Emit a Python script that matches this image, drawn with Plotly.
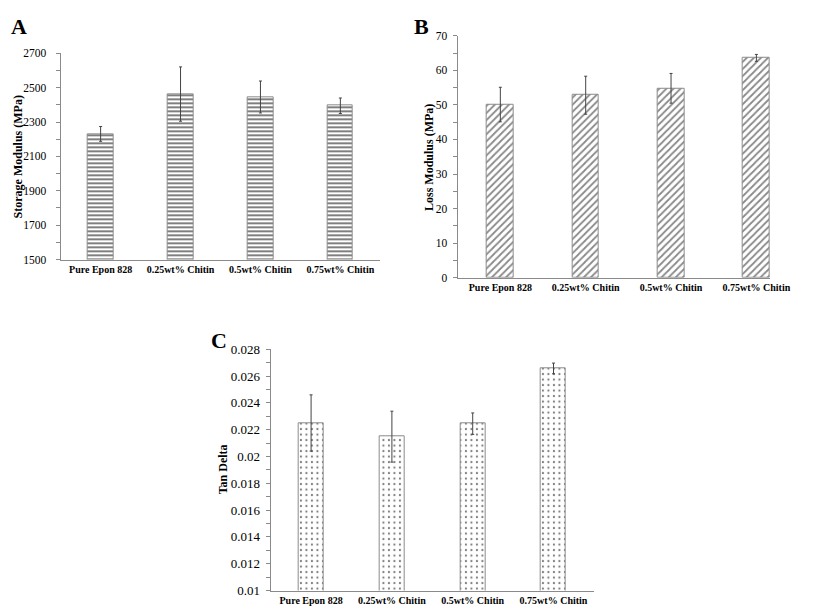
import plotly.graph_objects as go

categories = ["Pure Epon 828", "0.25wt% Chitin", "0.5wt% Chitin", "0.75wt% Chitin"]

storage_modulus = [2231, 2463, 2446, 2395]
storage_err = [43, 158, 93, 45]

loss_modulus = [50.1, 52.8, 54.8, 63.6]
loss_err = [5.0, 5.5, 4.3, 1.0]

tan_delta = [0.0225, 0.02148, 0.02245, 0.02657]
tan_err = [0.0021, 0.0019, 0.0008, 0.0004]

panel_letters = ["A", "B", "C"]
y_titles = ["Storage Modulus (MPa)", "Loss Modulus (MPa)", "Tan Delta"]

SERIF = "Liberation Serif"
W, H = 813, 611
AXIS_GRAY = "#8a8a8a"

def fx(px):
    return px / W

def fy(py):
    return (H - py) / H

fig = go.Figure()

def add_bar(xaxis, yaxis, vals, errs, shape, size, solidity, width, fg):
    fig.add_trace(go.Bar(
        x=categories, y=vals, xaxis=xaxis, yaxis=yaxis, width=width,
        marker=dict(color="white",
                    line=dict(color="#8c8c8c", width=1),
                    pattern=dict(shape=shape, fgcolor=fg, bgcolor="white",
                                 size=size, solidity=solidity, fillmode="overlay")),
        error_y=dict(type="data", array=errs, visible=True, color="#444444",
                     thickness=1, width=1.5),
        showlegend=False, hoverinfo="skip",
    ))

add_bar("x", "y", storage_modulus, storage_err, "-", 4, 0.5, 0.32, "black")
add_bar("x2", "y2", loss_modulus, loss_err, "/", 5, 0.35, 0.315, "#111111")
add_bar("x3", "y3", tan_delta, tan_err, ".", 5.5, 0.12, 0.31, "black")

xcommon = dict(type="category", showline=True, linecolor=AXIS_GRAY, linewidth=1,
               ticks="", showgrid=False, zeroline=False, tickangle=0,
               tickfont=dict(family=SERIF, size=10, color="black", weight="bold"))
ycommon = dict(showline=True, linecolor=AXIS_GRAY, linewidth=1, ticks="outside",
               ticklen=4, tickcolor=AXIS_GRAY, showgrid=False, zeroline=False)

fig.update_layout(
    width=W, height=H, margin=dict(l=0, r=0, t=0, b=0),
    paper_bgcolor="white", plot_bgcolor="white", bargap=0,
    xaxis=dict(**xcommon, domain=[fx(54), fx(381.7)], anchor="y", range=[-0.5, 3.5]),
    yaxis=dict(**ycommon, domain=[fy(250.7), fy(39.3)], anchor="x", range=[1500, 2700],
               dtick=200, tick0=1500, ticklabelstandoff=7,
               minor=dict(ticks="outside", ticklen=4, tickcolor=AXIS_GRAY, dtick=100),
               tickfont=dict(family=SERIF, size=11.5, color="black")),
    xaxis2=dict(**xcommon, domain=[fx(461), fx(781.7)], anchor="y2", range=[-0.5, 3.165]),
    yaxis2=dict(**ycommon, domain=[fy(269.3), fy(21.3)], anchor="x2", range=[0, 70],
                dtick=10, ticklabelstandoff=3,
                minor=dict(ticks="outside", ticklen=4, tickcolor=AXIS_GRAY, dtick=5),
                tickfont=dict(family=SERIF, size=11.5, color="black")),
    xaxis3=dict(**xcommon, domain=[fx(269.3), fx(600.7)], anchor="y3", range=[-0.5, 3.5]),
    yaxis3=dict(**ycommon, domain=[fy(590), fy(342.7)], anchor="x3", range=[0.01, 0.028],
                dtick=0.002, tick0=0.01, ticklabelstandoff=3,
                minor=dict(ticks="outside", ticklen=4, tickcolor=AXIS_GRAY, dtick=0.001),
                tickfont=dict(family=SERIF, size=13, color="black")),
)

# panel letters
letter_pos = [(1, 12), (414, 12), (206, 334)]
for letter, (lx, ly) in zip(panel_letters, letter_pos):
    fig.add_annotation(text="<b>%s</b>" % letter, x=fx(lx), y=fy(ly), xref="paper", yref="paper",
                       xanchor="left", yanchor="middle", showarrow=False,
                       font=dict(family=SERIF, size=22, color="black"))

# y-axis titles (left edge of the rotated box)
title_pos = [(2, 145), (424, 146), (212, 466)]
for t, (tx, ty) in zip(y_titles, title_pos):
    fig.add_annotation(text="<b>%s</b>" % t, x=fx(tx), y=fy(ty), xref="paper", yref="paper",
                       xanchor="left", yanchor="middle", showarrow=False, textangle=-90,
                       borderpad=0,
                       font=dict(family=SERIF, size=12, color="black"))

fig.write_html("out.html")
